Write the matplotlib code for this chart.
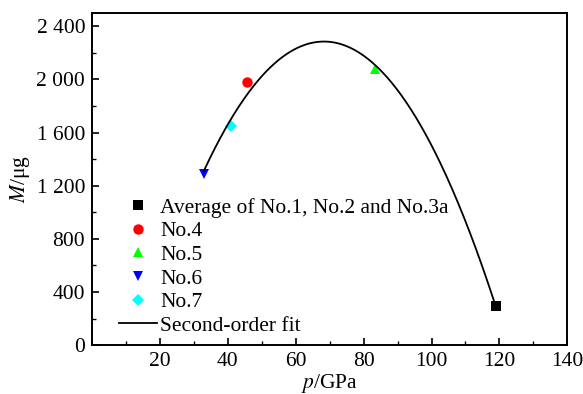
import numpy as np
import matplotlib
matplotlib.use("Agg")
import matplotlib.pyplot as plt
from matplotlib.ticker import MultipleLocator, FuncFormatter

# pressure p (GPa) and mass M (ug)
labels = ["Average of No.1, No.2 and No.3a", "No.4", "No.5", "No.6", "No.7"]
p_vals = [119.0, 45.7, 83.3, 33.0, 40.8]
m_vals = [296, 1981, 2077, 1290, 1652]
markers = ["s", "o", "^", "v", "D"]
colors = ["black", "red", "#00ff00", "blue", "cyan"]
sizes = [6.5, 7.5, 7.5, 7.5, 6.5]

plt.rcParams["font.family"] = ["Liberation Serif", "DejaVu Serif"]
plt.rcParams["mathtext.fontset"] = "stix"

fig = plt.figure(figsize=(5.83, 3.94), dpi=100)
ax = fig.add_axes([0.158, 0.124, 0.815, 0.843])

for lab, px, my, mk, c, s in zip(labels, p_vals, m_vals, markers, colors, sizes):
    ax.plot(px, my, linestyle="none", marker=mk, color=c, markersize=s,
            markeredgewidth=0, label=lab)

# second-order fit through the points
coef = np.polyfit(p_vals, m_vals, 2)
pf = np.linspace(min(p_vals), max(p_vals), 300)
ax.plot(pf, np.polyval(coef, pf), color="black", lw=1.3, label="Second-order fit")

ax.set_xlim(0, 140)
ax.set_ylim(0, 2500)
ax.xaxis.set_major_locator(MultipleLocator(20))
ax.xaxis.set_minor_locator(MultipleLocator(10))
ax.yaxis.set_major_locator(MultipleLocator(400))
ax.yaxis.set_minor_locator(MultipleLocator(200))


def xfmt(v, pos):
    return "" if v == 0 else f"{v:.0f}"


def yfmt(v, pos):
    return f"{v:,.0f}".replace(",", " ")


ax.xaxis.set_major_formatter(FuncFormatter(xfmt))
ax.yaxis.set_major_formatter(FuncFormatter(yfmt))
ax.tick_params(which="both", direction="in", top=False, right=False, labelsize=15.5)
ax.tick_params(which="major", length=5, width=1.2, pad=5)
ax.tick_params(which="minor", length=3, width=1.0)
for sp in ax.spines.values():
    sp.set_linewidth(1.4)

ax.set_xlabel("$p$/GPa", fontsize=15.5, labelpad=1)
ax.set_ylabel("$M$/μg", fontsize=15.5, labelpad=3)

ax.legend(loc="lower left", bbox_to_anchor=(0.03, -0.01), frameon=False,
          fontsize=15.5, handlelength=1.75, handletextpad=0.15, labelspacing=0.16,
          borderaxespad=0.2)

fig.savefig("out.png", dpi=100)
